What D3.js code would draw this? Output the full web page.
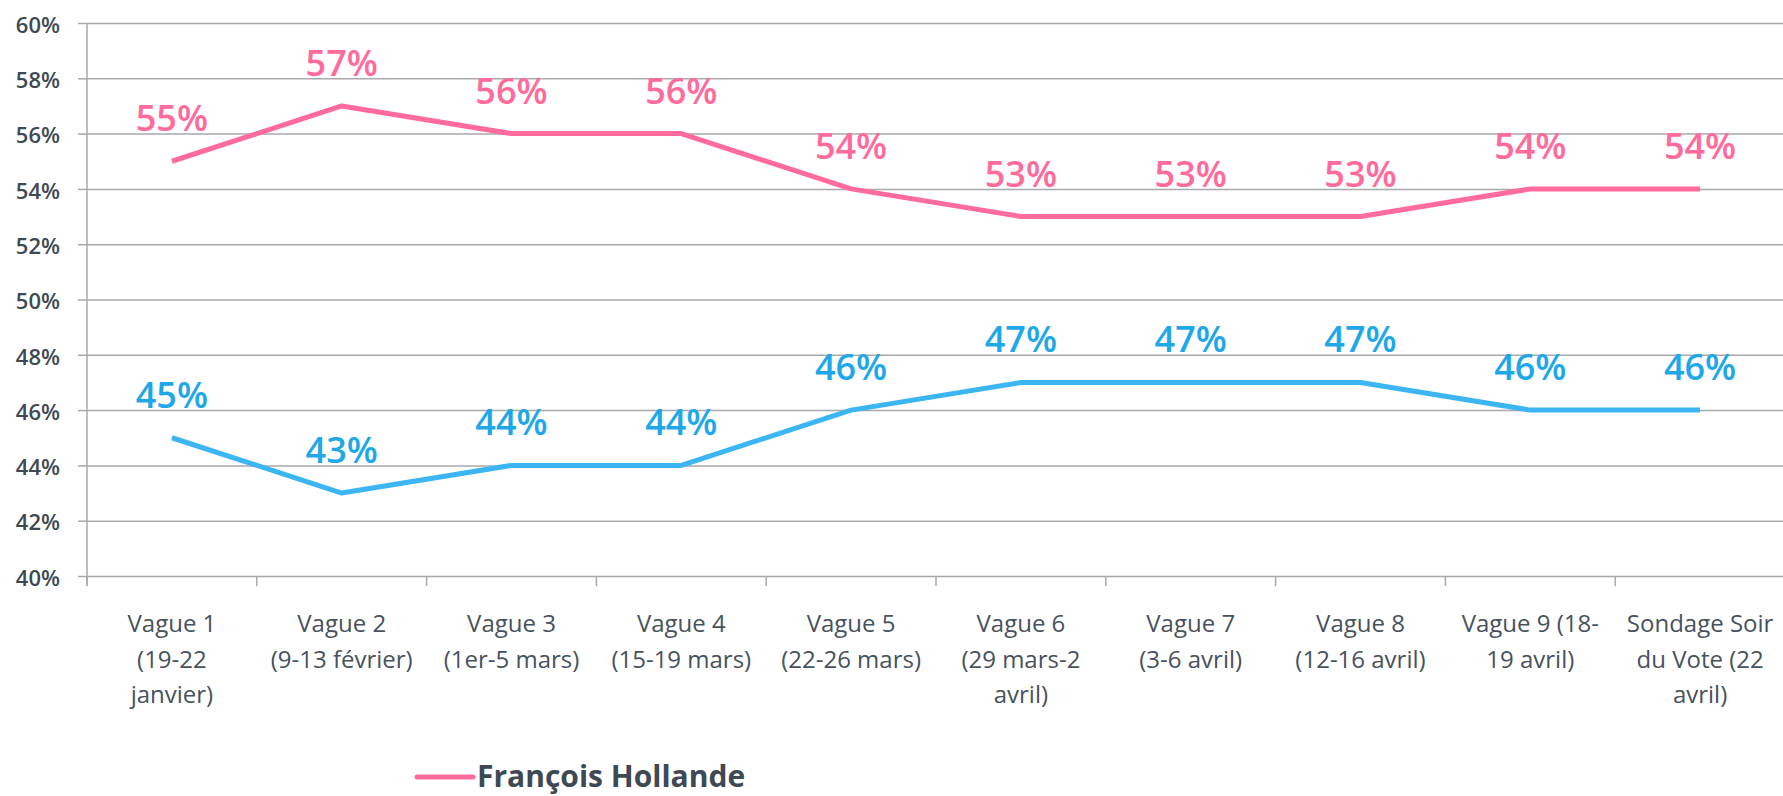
<!DOCTYPE html>
<html>
<head>
<meta charset="utf-8">
<script src="https://cdn.jsdelivr.net/npm/d3@7"></script>
<style>
  html, body { margin: 0; padding: 0; background: #fff; }
  svg { display: block; font-family: 'Open Sans', sans-serif; }
</style>
</head>
<body>
<svg width="1783" height="796"></svg>
<script>
const categories = [
    ['Vague 1', '(19-22', 'janvier)'],
    ['Vague 2', '(9-13 février)'],
    ['Vague 3', '(1er-5 mars)'],
    ['Vague 4', '(15-19 mars)'],
    ['Vague 5', '(22-26 mars)'],
    ['Vague 6', '(29 mars-2', 'avril)'],
    ['Vague 7', '(3-6 avril)'],
    ['Vague 8', '(12-16 avril)'],
    ['Vague 9 (18-', '19 avril)'],
    ['Sondage Soir', 'du Vote (22', 'avril)']
];
const hollande = [55, 57, 56, 56, 54, 53, 53, 53, 54, 54];
const sarkozy = [45, 43, 44, 44, 46, 47, 47, 47, 46, 46];
const yTicks = [40, 42, 44, 46, 48, 50, 52, 54, 56, 58, 60];
const legendLabel = 'François Hollande';

const PINK = '#ff6b9b';
const BLUE = '#3bb6f2';
const BLUE_TEXT = '#1ea8e8';
const GRID = '#a9a9a9';
const TEXT = '#3e4953';

const svg = d3.select('svg');

const LEFT = 87;
const RIGHT = 1785;
const TOP = 23;
const BOTTOM = 576;

const idx = d3.range(categories.length);

const X_SCALE =
    d3.scaleBand()
        .domain(idx)
        .range([LEFT, RIGHT])
        .padding(0);

const Y_SCALE =
    d3.scaleLinear()
        .domain([40, 60])
        .range([BOTTOM, TOP]);

const cx = i => X_SCALE(i) + X_SCALE.bandwidth() / 2;

// gridlines
svg.append('g')
    .attr('transform', `translate(${LEFT},0)`)
    .call(d3.axisLeft(Y_SCALE).tickValues(yTicks).tickSize(-(RIGHT - LEFT)).tickFormat(''))
    .call(g => g.select('.domain').remove())
    .selectAll('line')
    .attr('stroke', GRID)
    .attr('stroke-width', 1.5);

// y axis
svg.append('g')
    .attr('transform', `translate(${LEFT},0)`)
    .call(d3.axisLeft(Y_SCALE).tickValues(yTicks).tickSize(9).tickPadding(18).tickFormat(d => d + '%'))
    .call(g => g.select('.domain').attr('stroke', GRID).attr('stroke-width', 1.5)
        .attr('d', `M0,${TOP}V${BOTTOM + 10}`))
    .call(g => g.selectAll('line').attr('stroke', GRID).attr('stroke-width', 1.5))
    .call(g => g.selectAll('text')
        .attr('fill', TEXT)
        .style('font-family', "'Open Sans', sans-serif")
        .style('font-size', '22px')
        .style('font-weight', '600')
        .attr('dy', '0.42em'));

// x axis ticks on category boundaries
const boundaries = idx.map(i => X_SCALE(i)).concat([RIGHT]);
svg.append('g')
    .selectAll('line')
    .data(boundaries)
    .join('line')
    .attr('x1', d => d)
    .attr('x2', d => d)
    .attr('y1', BOTTOM)
    .attr('y2', BOTTOM + 10)
    .attr('stroke', GRID)
    .attr('stroke-width', 1.5);

// x labels
svg.append('g')
    .selectAll('text')
    .data(categories)
    .join('text')
    .attr('x', (d, i) => cx(i))
    .attr('y', 632)
    .attr('text-anchor', 'middle')
    .attr('fill', '#48525c')
    .style('font-size', '24px')
    .selectAll('tspan')
    .data(d => d)
    .join('tspan')
    .attr('x', function () { return d3.select(this.parentNode).attr('x'); })
    .attr('dy', (d, j) => j === 0 ? 0 : 35.5)
    .text(d => d);

const line = d3.line()
    .x((d, i) => cx(i))
    .y(d => Y_SCALE(d));

const series = [
    { values: hollande, stroke: PINK, label: PINK },
    { values: sarkozy, stroke: BLUE, label: BLUE_TEXT }
];

series.forEach(s => {
    svg.append('path')
        .datum(s.values)
        .attr('d', line)
        .attr('fill', 'none')
        .attr('stroke', s.stroke)
        .attr('stroke-width', 5)
        .attr('stroke-linejoin', 'round');

    svg.append('g')
        .selectAll('text')
        .data(s.values)
        .join('text')
        .attr('x', (d, i) => cx(i))
        .attr('y', d => Y_SCALE(d) - 30)
        .attr('text-anchor', 'middle')
        .attr('fill', s.label)
        .style('font-size', '36px')
        .style('font-weight', '600')
        .text(d => d + '%');
});

// legend
const legend = svg.append('g');
legend.append('line')
    .attr('x1', 417)
    .attr('x2', 473)
    .attr('y1', 777)
    .attr('y2', 777)
    .attr('stroke', PINK)
    .attr('stroke-width', 5)
    .attr('stroke-linecap', 'round');
legend.append('text')
    .attr('x', 477)
    .attr('y', 787)
    .attr('fill', TEXT)
    .style('font-size', '30px')
    .style('font-weight', '700')
    .text(legendLabel);
</script>
</body>
</html>
